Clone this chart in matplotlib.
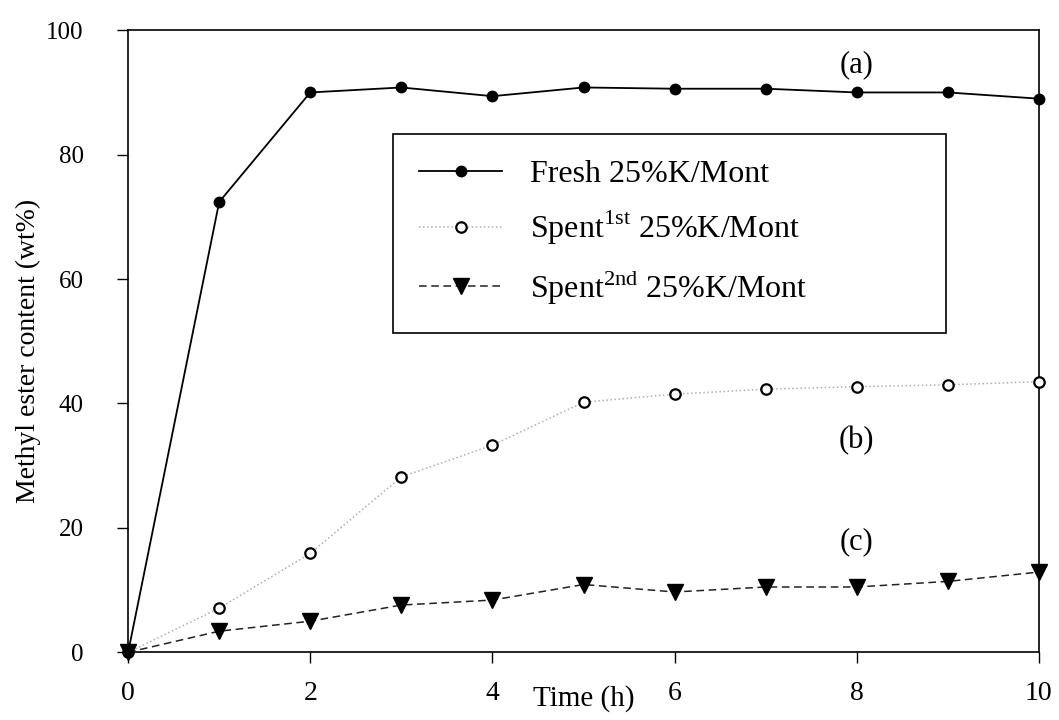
import numpy as np
import matplotlib
matplotlib.use("Agg")
import matplotlib.pyplot as plt

plt.rcParams['font.family'] = ['Liberation Serif', 'DejaVu Serif']
plt.rcParams['mathtext.fontset'] = 'custom'
plt.rcParams['mathtext.rm'] = 'Liberation Serif'

time_h = [0, 1, 2, 3, 4, 5, 6, 7, 8, 9, 10]
fresh = [0, 72.4, 90.0, 90.8, 89.4, 90.8, 90.6, 90.6, 90.0, 90.0, 89.0]
spent1 = [0, 7.1, 15.9, 28.2, 33.3, 40.2, 41.5, 42.3, 42.7, 43.0, 43.5]
spent2 = [0, 3.4, 5.0, 7.6, 8.4, 10.9, 9.7, 10.5, 10.5, 11.4, 12.9]

labels = ['Fresh 25%K/Mont',
          r'Spent$^{\mathrm{1st}}$ 25%K/Mont',
          r'Spent$^{\mathrm{2nd}}$ 25%K/Mont']

fig = plt.figure(figsize=(10.59, 7.2), dpi=100)
ax = fig.add_axes([0.121, 0.094, 0.860, 0.864])

ax.plot(time_h, fresh, '-', color='black', lw=1.3, marker='o', ms=7.5,
        mfc='black', mec='black', label=labels[0], clip_on=False, zorder=3)
ax.plot(time_h, spent1, ':', color='#b0b0b0', lw=1.1, marker='o', ms=7.5,
        mfc='white', mec='black', mew=1.6, label=labels[1], clip_on=False, zorder=3)
ax.plot(time_h, spent2, '--', color='#222222', lw=1.1, marker='v', ms=11,
        mfc='black', mec='black', label=labels[2], clip_on=False, zorder=3,
        dashes=(5, 3))

ax.set_xlim(0, 10)
ax.set_ylim(0, 100)
ax.set_xticks([0, 2, 4, 6, 8, 10])
ax.set_yticks([0, 20, 40, 60, 80, 100])
ax.tick_params(direction='out', length=8, width=1)
ax.tick_params(axis='y', labelsize=18, pad=24)
ax.tick_params(axis='x', labelsize=20, pad=13)
for s in ax.spines.values():
    s.set_linewidth(1.2)

ax.set_ylabel('Methyl ester content (wt%)', fontsize=20)
ax.yaxis.set_label_coords(-0.096, 0.485)
ax.set_xlabel('Time (h)', fontsize=21)
ax.xaxis.set_label_coords(0.5, -0.052)

ax.text(8.0, 94.5, '(a)', fontsize=22, ha='center', va='center')
ax.text(8.0, 34.0, '(b)', fontsize=22, ha='center', va='center')
ax.text(8.0, 17.7, '(c)', fontsize=22, ha='center', va='center')

leg = ax.legend(loc='upper left', bbox_to_anchor=(0.291, 0.834, 0.607, 0.0),
                mode='expand', fontsize=23,
                frameon=True, fancybox=False, edgecolor='black', framealpha=1,
                handlelength=2.6, handletextpad=0.85, labelspacing=0.62,
                borderpad=0.82, borderaxespad=0)
leg.get_frame().set_linewidth(1.2)

fig.savefig('out.png', dpi=100)
